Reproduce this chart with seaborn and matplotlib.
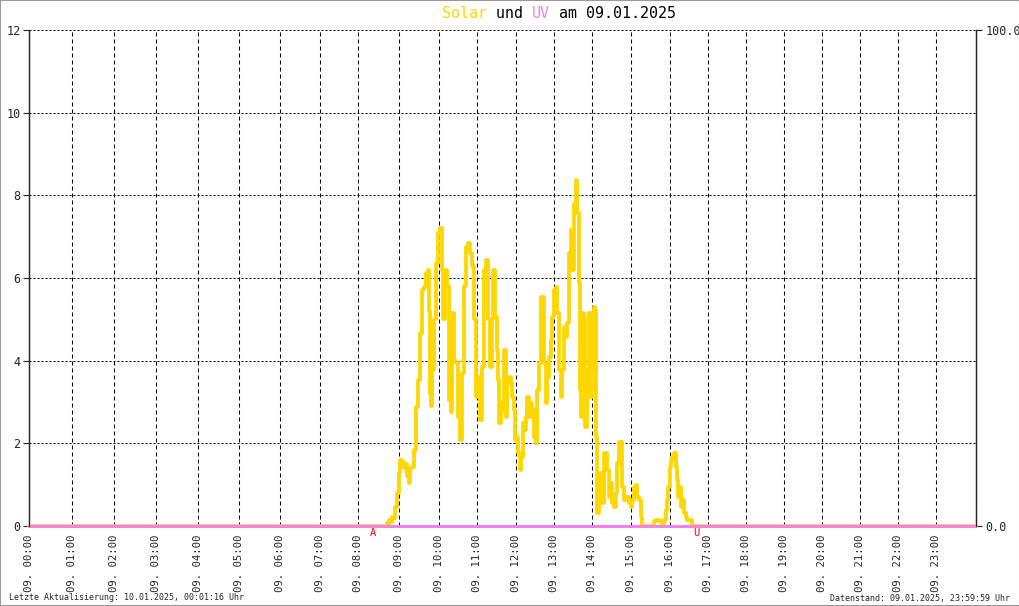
import numpy as np
import pandas as pd
import matplotlib
matplotlib.use('Agg')
import matplotlib.pyplot as plt
from matplotlib.patches import Rectangle
import seaborn as sns

# logger writes one sample per pixel column, so hours are not equally wide
samples_per_hour = [43, 42, 42, 42, 41, 41, 40, 38, 41, 40, 38, 39,
                    38, 38, 39, 39, 38, 38, 38, 38, 38, 38, 38, 40]

# solar values (hours, value)
solar_hours = [0.0, 8.676, 8.724, 8.773, 8.822, 8.846, 8.871, 8.920, 8.968,
               9.018, 9.055, 9.093, 9.143, 9.193, 9.218, 9.268, 9.305, 9.343, 9.393,
               9.443, 9.493, 9.543, 9.593, 9.643, 9.693, 9.743, 9.768, 9.793, 9.818,
               9.843, 9.893, 9.943, 9.993,
               10.045, 10.097, 10.124, 10.176, 10.229, 10.282, 10.334, 10.361, 10.413,
               10.466, 10.518, 10.571, 10.624, 10.676, 10.729, 10.782, 10.834, 10.887,
               10.939, 10.992,
               11.044, 11.095, 11.146, 11.197, 11.249, 11.300, 11.351, 11.403, 11.428,
               11.479, 11.523, 11.556, 11.590, 11.626, 11.667, 11.710, 11.754, 11.795,
               11.838, 11.882, 11.923, 11.967,
               12.000, 12.037, 12.071, 12.124, 12.158, 12.195, 12.229, 12.274, 12.316,
               12.361, 12.405, 12.447, 12.492, 12.537, 12.579, 12.624, 12.668, 12.711,
               12.755, 12.800, 12.842, 12.887, 12.932, 12.974,
               13.018, 13.063, 13.105, 13.150, 13.195, 13.237, 13.282, 13.326, 13.368,
               13.413, 13.458, 13.500, 13.545, 13.589, 13.632, 13.658, 13.703, 13.737,
               13.774, 13.808, 13.842, 13.879, 13.913, 13.947, 13.984,
               14.026, 14.069, 14.095, 14.121, 14.154, 14.197, 14.241, 14.282, 14.326,
               14.369, 14.410, 14.454, 14.497, 14.538, 14.582, 14.626, 14.667, 14.710,
               14.754, 14.795, 14.838, 14.882, 14.923, 14.967,
               15.010, 15.051, 15.095, 15.138, 15.179, 15.223, 15.267, 15.308, 15.556,
               15.608, 15.685, 15.762, 15.821, 15.864, 15.908, 15.949, 15.974,
               16.018, 16.037, 16.079, 16.124, 16.168, 16.195, 16.221, 16.255, 16.300,
               16.342, 16.387, 16.432, 16.474, 16.563, 16.597, 24.0]
solar_values = [0.0, 0.0, 0.07, 0.15, 0.1, 0.22, 0.2, 0.47, 0.8,
                1.28, 1.6, 1.55, 1.4, 1.5, 1.2, 1.04, 1.4, 1.43, 1.84,
                2.88, 3.53, 4.67, 5.71, 5.78, 6.12, 6.2, 5.2, 3.2, 2.9,
                3.78, 5.0, 6.36, 7.09,
                7.2, 6.2, 5.0, 6.2, 5.8, 3.05, 2.77, 5.15, 4.0,
                3.94, 2.64, 2.08, 3.7, 5.8, 6.75, 6.85, 6.6, 6.28,
                5.0, 3.12,
                3.6, 2.56, 3.85, 6.2, 6.44, 5.0, 3.85, 5.0, 6.2,
                5.06, 4.26, 3.53, 2.49, 2.97, 2.8, 4.26, 2.64, 3.46,
                3.6, 3.46, 3.12, 2.8,
                2.08, 2.15, 1.77, 1.36, 1.67, 2.49, 2.32, 2.64, 3.12,
                2.64, 2.97, 2.8, 2.15, 2.0, 3.29, 3.94, 5.54, 5.54,
                3.94, 2.97, 3.6, 4.09, 4.5, 5.06,
                5.71, 5.78, 5.15, 3.78, 3.12, 3.78, 4.82, 4.57, 4.9,
                6.6, 7.16, 6.2, 7.8, 8.37, 7.57, 5.88, 3.29, 2.64,
                5.15, 5.06, 2.4, 3.05, 3.78, 5.15, 3.12,
                3.78, 5.3, 5.23, 2.15, 0.31, 1.28, 1.28, 0.56, 1.77,
                1.77, 1.36, 0.7, 1.04, 0.56, 0.47, 0.8, 1.52, 2.03,
                2.03, 0.94, 0.63, 0.7, 0.7, 0.56,
                0.47, 0.63, 0.94, 1.0, 0.7, 0.63, 0.22, 0.0, 0.0,
                0.12, 0.15, 0.12, 0.0, 0.15, 0.39, 0.63, 0.94,
                1.43, 1.6, 1.67, 1.77, 1.43, 1.11, 0.7, 0.94, 0.47,
                0.63, 0.31, 0.22, 0.15, 0.15, 0.0, 0.0]

uv_hours = [0.0, 24.0]
uv_values = [0.0, 0.0]

sunrise_hour = 8.36   # "A" = Aufgang
sunset_hour = 16.70   # "U" = Untergang

hour_labels = ['09. %02d:00' % h for h in range(24)]
title_parts = [('Solar', '#FFD700'), (' und ', 'black'), ('UV', '#EE82EE'), (' am 09.01.2025', 'black')]
footer_left = 'Letzte Aktualisierung: 10.01.2025, 00:01:16 Uhr'
footer_right = 'Datenstand: 09.01.2025, 23:59:59 Uhr'

solar = pd.DataFrame({'hour': solar_hours, 'value': solar_values})
uv = pd.DataFrame({'hour': uv_hours, 'value': uv_values})

sns.set_style('white')
plt.rcParams['font.family'] = ['DejaVu Sans Mono', 'DejaVu Sans']

W, H = 1020, 606
fig = plt.figure(figsize=(W / 100, H / 100), dpi=100)
ax = fig.add_axes([29 / W, 80 / H, 947 / W, 496 / H])

edges = np.arange(25)
cum = np.concatenate([[0], np.cumsum(samples_per_hour)])
ax.set_xscale('function', functions=(lambda h: np.interp(h, edges, cum),
                                     lambda s: np.interp(s, cum, edges)))

sns.lineplot(data=solar, x='hour', y='value', ax=ax, color='#FFD700',
             linewidth=2.7, estimator=None, sort=False, drawstyle='steps-mid',
             clip_on=False, zorder=3)

ax.set_xlim(0, 24)
ax.set_ylim(0, 12)
ax.set_xticks(range(24))
ax.set_xticklabels(hour_labels, rotation=90, fontsize=7.7)
ax.set_yticks(range(0, 13, 2))
ax.tick_params(axis='x', length=0, pad=6)
ax.tick_params(axis='y', length=4, width=0.8, direction='out', labelsize=8.5, pad=2)
ax.set_xlabel('')
ax.set_ylabel('')

for h in range(1, 24):
    ax.axvline(h, color='black', linewidth=0.75, linestyle=(0, (3.84, 2.88)), zorder=1)
for v in range(2, 13, 2):
    ax.axhline(v, color='black', linewidth=0.75, linestyle=(0, (1.92, 1.92)), zorder=1)

for side in ['top', 'bottom']:
    ax.spines[side].set_visible(False)
ax.spines['left'].set_linewidth(1)
ax.spines['right'].set_linewidth(1)

ax2 = ax.twinx()
sns.lineplot(data=uv, x='hour', y='value', ax=ax2, color='#EE82EE',
             linewidth=2.2, estimator=None, clip_on=False)
ax2.set_ylim(0, 100)
ax2.set_yticks([0, 100])
ax2.set_yticklabels(['0.0', '100.0'])
ax2.tick_params(axis='y', length=4, width=0.8, direction='out', labelsize=8.5, pad=3)
ax2.set_ylabel('')
for side in ['top', 'bottom']:
    ax2.spines[side].set_visible(False)

# sunrise / sunset markers just under the zero line
for hr, lab in [(sunrise_hour, 'A'), (sunset_hour, 'U')]:
    ax.text(hr, -0.04, lab, color='red', fontsize=7.5, ha='center', va='top')

# title in pieces, monospace font so each char is ~9px wide
pos = 0
for txt, col in title_parts:
    fig.text((442 + 9.0 * pos) / W, 1 - 13 / H, txt, color=col, fontsize=10.8,
             ha='left', va='center')
    pos += len(txt)

fig.text(9 / W, 1 - 598 / H, footer_left, fontsize=6, ha='left', va='center')
fig.text(1010 / W, 1 - 598 / H, footer_right, fontsize=6, ha='right', va='center')

fig.patches.append(Rectangle((0, 0), 1, 1, transform=fig.transFigure, fill=False,
                             edgecolor='#999999', linewidth=1.5))

fig.savefig('out.png', dpi=100)
